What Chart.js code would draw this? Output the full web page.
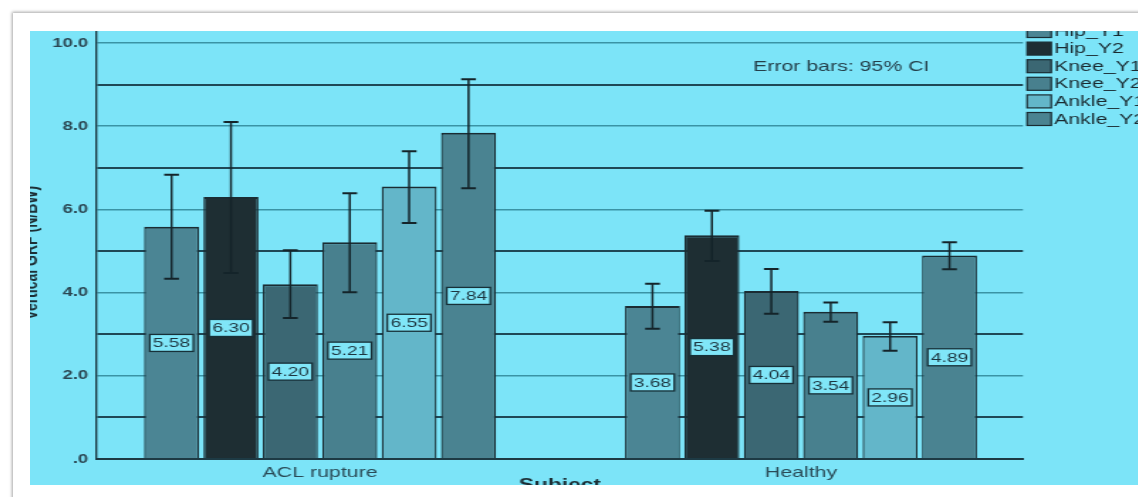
<!DOCTYPE html>
<html>
<head>
<meta charset="utf-8">
<script src="https://cdn.jsdelivr.net/npm/chart.js@4"></script>
<style>
  html, body { margin: 0; padding: 0; background: #ffffff; width: 1138px; height: 497px; overflow: hidden; }
  #sheet { position: absolute; left: 13px; top: 13px; width: 1300px; height: 700px; background: #ffffff;
           box-shadow: -1px -1px 3px rgba(0,0,0,0.35); }
  #plot { position: absolute; left: 30px; top: 31px; width: 1108px; height: 454px; overflow: hidden; background: #7ce4f8; }
  /* the exported figure is widened horizontally, text included */
  #c { position: absolute; left: -10px; top: 0; transform: scaleX(1.42); transform-origin: 0 0; }
</style>
</head>
<body>
<div id="sheet"></div>
<div id="plot"><canvas id="c" width="831" height="470"></canvas></div>
<script>
// Group means of vertical GRF by subject group
const categories = ['ACL rupture', 'Healthy'];
const seriesNames = ['Hip_Y1', 'Hip_Y2', 'Knee_Y1', 'Knee_Y2', 'Ankle_Y1', 'Ankle_Y2'];

const hipY1   = [5.58, 3.68];
const hipY2   = [6.30, 5.38];
const kneeY1  = [4.20, 4.04];
const kneeY2  = [5.21, 3.54];
const ankleY1 = [6.55, 2.96];
const ankleY2 = [7.84, 4.89];

// 95% confidence interval limits, same order
const hipY1Low   = [4.33, 3.13], hipY1High   = [6.83, 4.21];
const hipY2Low   = [4.47, 4.76], hipY2High   = [8.10, 5.97];
const kneeY1Low  = [3.39, 3.49], kneeY1High  = [5.02, 4.57];
const kneeY2Low  = [4.01, 3.30], kneeY2High  = [6.39, 3.76];
const ankleY1Low = [5.67, 2.60], ankleY1High = [7.40, 3.29];
const ankleY2Low = [6.51, 4.56], ankleY2High = [9.13, 5.21];

const yTickValues = [0, 1, 2, 3, 4, 5, 6, 7, 8, 9, 10];
const yTickLabels = ['.0', '', '2.0', '', '4.0', '', '6.0', '', '8.0', '', '10.0'];

const seriesValues = [hipY1, hipY2, kneeY1, kneeY2, ankleY1, ankleY2];
const seriesLow  = [hipY1Low, hipY2Low, kneeY1Low, kneeY2Low, ankleY1Low, ankleY2Low];
const seriesHigh = [hipY1High, hipY2High, kneeY1High, kneeY2High, ankleY1High, ankleY2High];
const seriesColors = ['#4b8594', '#1e2e33', '#3b6773', '#48808e', '#63b6c9', '#4a8391'];

const FONT = "'Liberation Sans', Arial, sans-serif";
const INK = '#1a2c33';

const overlay = {
  id: 'overlay',
  afterDatasetsDraw(chart) {
    const { ctx, chartArea, scales: { y } } = chart;
    ctx.save();
    // error bars
    ctx.strokeStyle = '#14242a';
    seriesNames.forEach((_, k) => {
      chart.getDatasetMeta(k).data.forEach((bar, i) => {
        const x = bar.x;
        const yLo = y.getPixelForValue(seriesLow[k][i]);
        const yHi = y.getPixelForValue(seriesHigh[k][i]);
        ctx.lineWidth = 1.5;
        ctx.beginPath(); ctx.moveTo(x, yLo); ctx.lineTo(x, yHi); ctx.stroke();
        ctx.lineWidth = 2;
        ctx.beginPath();
        ctx.moveTo(x - 5.2, yHi); ctx.lineTo(x + 5.2, yHi);
        ctx.moveTo(x - 5.2, yLo); ctx.lineTo(x + 5.2, yLo);
        ctx.stroke();
      });
    });
    // value labels at half bar height
    ctx.font = '13.5px ' + FONT;
    ctx.textAlign = 'center';
    ctx.textBaseline = 'middle';
    seriesNames.forEach((_, k) => {
      chart.getDatasetMeta(k).data.forEach((bar, i) => {
        const v = seriesValues[k][i];
        const txt = v.toFixed(2);
        const cy = y.getPixelForValue(v / 2);
        const w = ctx.measureText(txt).width + 4.4;
        const h = 17;
        ctx.fillStyle = '#80e6f8';
        ctx.fillRect(bar.x - w / 2, cy - h / 2, w, h);
        ctx.lineWidth = 1.3;
        ctx.strokeStyle = '#173038';
        ctx.strokeRect(bar.x - w / 2, cy - h / 2, w, h);
        ctx.fillStyle = '#1d3640';
        ctx.fillText(txt, bar.x, cy + 0.5);
      });
    });
    // annotation
    ctx.font = '15px ' + FONT;
    ctx.textAlign = 'left';
    ctx.fillStyle = '#243f4a';
    ctx.fillText('Error bars: 95% CI', chartArea.left + 0.7086 * (chartArea.right - chartArea.left), chartArea.top + 36);
    ctx.restore();
  },
  afterDraw(chart) {
    const { ctx, chartArea } = chart;
    ctx.save();
    ctx.font = '15px ' + FONT;
    ctx.textAlign = 'left';
    ctx.textBaseline = 'middle';
    const x0 = chartArea.right + 2.9;
    seriesNames.forEach((name, k) => {
      const cy = chartArea.top + k * 17.6;
      ctx.fillStyle = seriesColors[k];
      ctx.fillRect(x0, cy - 6.5, 17, 13);
      ctx.lineWidth = 1.2;
      ctx.strokeStyle = INK;
      ctx.strokeRect(x0, cy - 6.5, 17, 13);
      ctx.fillStyle = '#1a2a30';
      ctx.fillText(name, x0 + 19, cy + 0.5);
    });
    ctx.restore();
  }
};

const datasets = seriesNames.map((name, k) => ({
  label: name,
  data: seriesValues[k].map((v, i) => ({ x: i, y: v })),
  backgroundColor: seriesColors[k],
  borderColor: INK,
  borderWidth: { top: 2, left: 1.3, right: 1.3, bottom: 0 },
  categoryPercentage: 0.741,
  barPercentage: 0.926
}));

new Chart(document.getElementById('c'), {
  type: 'bar',
  data: { datasets },
  options: {
    responsive: false,
    animation: false,
    layout: { padding: { left: 0, right: 124.7, top: 0, bottom: 7.5 } },
    plugins: { legend: { display: false }, tooltip: { enabled: false } },
    scales: {
      x: {
        type: 'linear',
        min: -0.4644,
        max: 1.4615,
        offset: false,
        afterBuildTicks: s => { s.ticks = categories.map((_, i) => ({ value: i })); },
        grid: { display: false, drawTicks: false },
        border: { display: true, color: '#1d3a44', width: 2 },
        ticks: {
          callback: (v, i) => categories[i],
          autoSkip: false, maxRotation: 0, padding: 6,
          font: { family: FONT, size: 15, lineHeight: 1 },
          color: '#2a4b57'
        },
        title: {
          display: true, text: 'Subject', color: '#1d2f36',
          font: { family: FONT, size: 16, weight: 'bold', lineHeight: 1 },
          padding: { top: -8.5, bottom: 0 }
        }
      },
      y: {
        min: 0,
        max: 10.288,
        afterBuildTicks: s => { s.ticks = yTickValues.map(v => ({ value: v })); },
        afterFit: s => { s.paddingTop = 0; },
        grid: {
          drawTicks: false,
          color: c => (c.tick && c.tick.value % 2 === 0 && c.tick.value !== 0) ? '#3a93a5' : '#1f4856',
          lineWidth: c => (c.tick && c.tick.value % 2 === 0 && c.tick.value !== 0) ? 1.5 : 2
        },
        border: { display: true, color: '#1d3a44', width: 1.4 },
        ticks: {
          callback: (v, i) => yTickLabels[i],
          padding: 6,
          font: { family: FONT, size: 13, weight: 'bold' },
          color: '#2b4753'
        },
        title: {
          display: true, text: 'Vertical GRF (N/BW)    ', color: '#1d2f36',
          font: { family: FONT, size: 14, weight: 'bold', lineHeight: 1 },
          padding: { top: 1.5, bottom: 1.2 }
        }
      }
    }
  },
  plugins: [overlay]
});
</script>
</body>
</html>
